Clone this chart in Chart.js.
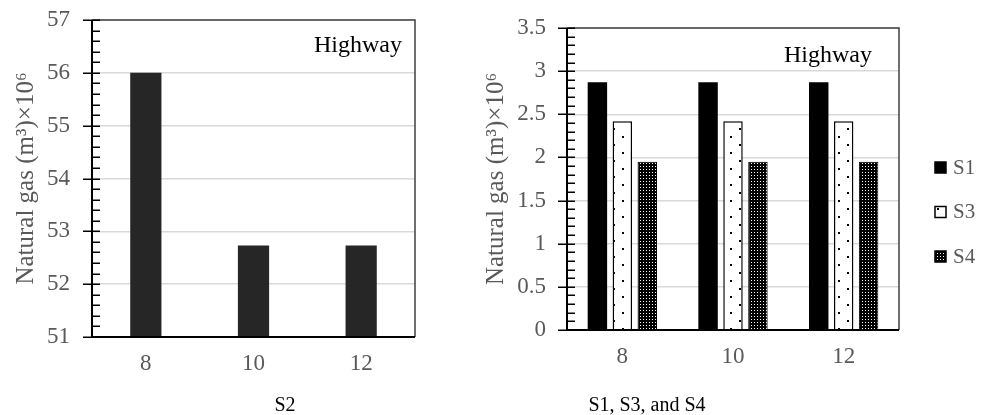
<!DOCTYPE html>
<html>
<head>
<meta charset="utf-8">
<script src="https://cdn.jsdelivr.net/npm/chart.js@4/dist/chart.umd.min.js"></script>
<style>
  html, body { margin:0; padding:0; background:#fff; }
  body { width:981px; height:415px; position:relative; overflow:hidden; font-family:"Liberation Serif", "Times New Roman", serif; }
  canvas { position:absolute; left:0; top:0; }
  .cap { position:absolute; font-size:20px; color:#000; transform:translate(-50%,-50%); white-space:nowrap; }
</style>
</head>
<body>
<canvas id="c1" width="981" height="415"></canvas>
<canvas id="c2" width="981" height="415"></canvas>
<div class="cap" style="left:285px; top:404px;">S2</div>
<div class="cap" style="left:647px; top:404px;">S1, S3, and S4</div>
<script>
// ---- data ----
const categories = ['8', '10', '12'];
const s2Values = [56.0, 52.73, 52.73];
const s1Values = [2.87, 2.87, 2.87];
const s3Values = [2.42, 2.42, 2.42];
const s4Values = [1.95, 1.95, 1.95];
const leftRange = [51, 57];      // min, max
const rightRange = [0, 3.5];
const seriesNames = ['S1', 'S3', 'S4'];
const yTitle = 'Natural gas (m\u00B3)\u00D710\u2076';
const noteText = 'Highway';

// ---- patterns ----
function makePattern(w, h, draw) {
  const c = document.createElement('canvas');
  c.width = w; c.height = h;
  const x = c.getContext('2d');
  draw(x);
  return x.createPattern(c, 'repeat');
}
const s3Pattern = makePattern(18, 16, x => {
  x.fillStyle = '#fff'; x.fillRect(0, 0, 18, 16);
  x.fillStyle = '#000';
  x.fillRect(1, 0, 2, 2);
  x.fillRect(10, 8, 2, 2);
});
const s4Pattern = makePattern(3, 3, x => {
  x.fillStyle = '#000'; x.fillRect(0, 0, 3, 3);
  x.fillStyle = '#fff'; x.fillRect(1, 1, 1, 1);
});

const FONT = '"Liberation Serif", "Times New Roman", serif';
const GRAY = '#595959';

const framePlugin = {
  id: 'frame',
  afterDatasetsDraw(chart, args, opts) {
    const { ctx, chartArea: { left, right, top, bottom }, scales: { y } } = chart;
    ctx.save();
    ctx.strokeStyle = '#404040'; ctx.lineWidth = 1.5;
    ctx.beginPath(); ctx.moveTo(left, top); ctx.lineTo(right, top); ctx.lineTo(right, bottom); ctx.stroke();
    ctx.strokeStyle = '#000'; ctx.lineWidth = 2;
    ctx.beginPath(); ctx.moveTo(left, top); ctx.lineTo(left, bottom); ctx.lineTo(right, bottom); ctx.stroke();
    ctx.lineWidth = 1.5;
    const n = Math.round((y.max - y.min) / opts.minor);
    for (let i = 0; i <= n; i++) {
      const v = y.min + i * opts.minor;
      const py = Math.round(y.getPixelForValue(v)) + 0.25;
      const r = (v - y.min) / opts.major;
      const isMajor = Math.abs(r - Math.round(r)) < 1e-6;
      ctx.beginPath();
      ctx.moveTo(isMajor ? left - 9 : left, py);
      ctx.lineTo(left + 8, py);
      ctx.stroke();
    }
    // note
    ctx.fillStyle = '#000';
    ctx.font = '24px ' + FONT;
    ctx.textAlign = 'right';
    ctx.textBaseline = 'alphabetic';
    ctx.fillText(noteText, right - opts.noteDx, top + opts.noteDy);
    // legend
    if (opts.legend) {
      ctx.font = '21px ' + FONT;
      ctx.textAlign = 'left';
      ctx.textBaseline = 'middle';
      chart.data.datasets.forEach((ds, i) => {
        const cy = 168 + i * 44.5;
        const bx = right + 36;
        ctx.fillStyle = ds.backgroundColor;
        ctx.fillRect(bx, cy - 6, 11, 11);
        ctx.strokeStyle = '#000'; ctx.lineWidth = 1.5;
        ctx.strokeRect(bx, cy - 6, 11, 11);
        ctx.fillStyle = GRAY;
        ctx.fillText(ds.label, bx + 18, cy);
      });
    }
    ctx.restore();
  }
};

function yScale(range, step, titlePadTop, width, gap) {
  return {
    min: range[0], max: range[1],
    ticks: { stepSize: step, color: GRAY, font: { family: FONT, size: 23 }, padding: 0,
      callback: v => String(+Number(v).toFixed(2)) },
    grid: { color: '#d9d9d9', lineWidth: 1.5, drawTicks: true, tickLength: gap, tickColor: 'rgba(0,0,0,0)' },
    border: { display: false },
    title: { display: true, text: yTitle, color: GRAY, font: { family: FONT, size: 25 }, padding: { top: titlePadTop, bottom: 0 } },
    afterFit(s) { s.width = width; }
  };
}
function xScale(height, pad) {
  return {
    ticks: { color: GRAY, font: { family: FONT, size: 23 }, padding: pad },
    grid: { display: false, drawTicks: false },
    border: { display: false },
    afterFit(s) { s.height = height; }
  };
}

new Chart(document.getElementById('c1'), {
  type: 'bar',
  data: {
    labels: categories,
    datasets: [{ label: 'S2', data: s2Values, backgroundColor: '#262626', borderWidth: 0,
      barPercentage: 0.29, categoryPercentage: 1 }]
  },
  options: {
    responsive: false, animation: false, devicePixelRatio: 1,
    layout: { padding: { left: 0, top: 20, right: 566, bottom: 0 } },
    plugins: { legend: { display: false }, tooltip: { enabled: false },
      frame: { minor: 0.2, major: 1, noteDx: 13, noteDy: 32 } },
    scales: { x: xScale(78, 13), y: yScale(leftRange, 1, 11, 92, 22) }
  },
  plugins: [framePlugin]
});

new Chart(document.getElementById('c2'), {
  type: 'bar',
  data: {
    labels: categories,
    datasets: [
      { label: seriesNames[0], data: s1Values, backgroundColor: '#000', borderWidth: 0 },
      { label: seriesNames[1], data: s3Values, backgroundColor: s3Pattern, borderColor: '#000', borderWidth: 1.5 },
      { label: seriesNames[2], data: s4Values, backgroundColor: s4Pattern, borderColor: '#000', borderWidth: 1 }
    ]
  },
  options: {
    responsive: false, animation: false, devicePixelRatio: 1,
    datasets: { bar: { barPercentage: 0.78, categoryPercentage: 0.676 } },
    layout: { padding: { left: 475, top: 28, right: 82, bottom: 0 } },
    plugins: { legend: { display: false }, tooltip: { enabled: false },
      frame: { minor: 0.1, major: 0.5, noteDx: 27, noteDy: 34, legend: true } },
    scales: { x: xScale(85, 13), y: yScale(rightRange, 0.5, 6, 92, 21) }
  },
  plugins: [framePlugin]
});
</script>
</body>
</html>
